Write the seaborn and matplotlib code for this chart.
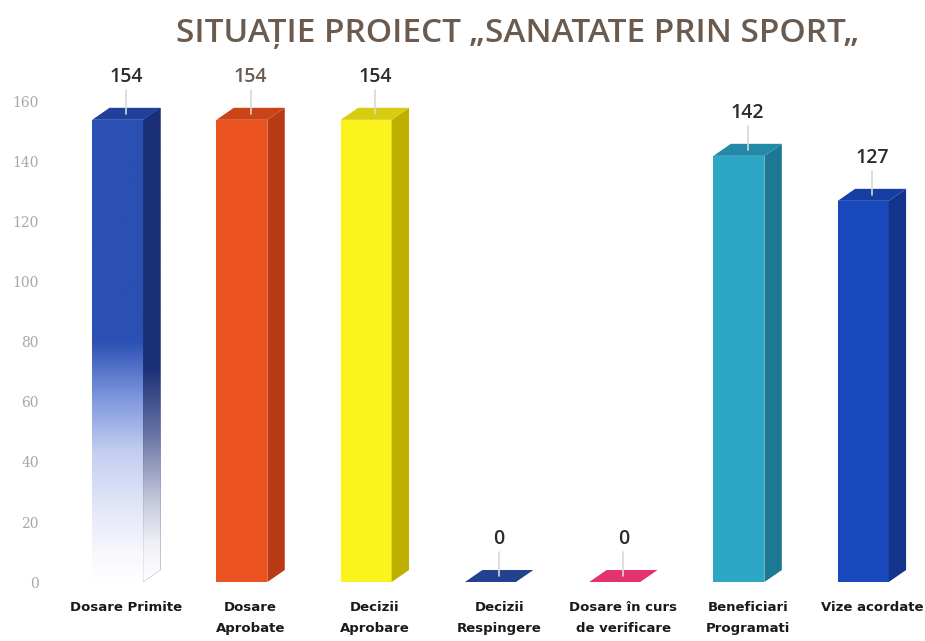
import numpy as np
import pandas as pd
import matplotlib
matplotlib.use("Agg")
import matplotlib.pyplot as plt
import seaborn as sns
from matplotlib.patches import Polygon
from matplotlib.colors import LinearSegmentedColormap

# date grafic
categorii = ["Dosare Primite", "Dosare\nAprobate", "Decizii\nAprobare", "Decizii\nRespingere",
             "Dosare în curs\nde verificare", "Beneficiari\nProgramati", "Vize acordate"]
valori = [154, 154, 154, 0, 0, 142, 127]
culori_fata = ["#2b50b4", "#ea5220", "#fbf31e", "#22418f", "#e2336c", "#2ea6c6", "#1a49bd"]
culori_lateral = ["#1b2f78", "#b93a14", "#bfb000", "#16306e", "#b82052", "#1c7893", "#14338a"]
culori_sus = ["#20409a", "#cc4318", "#d6cc10", "#22418f", "#e2336c", "#2389a8", "#173fa3"]
culori_eticheta = ["#2b2b2b", "#6b5a4e", "#2b2b2b", "#2b2b2b", "#2b2b2b", "#2b2b2b", "#2b2b2b"]
yticks = [0, 20, 40, 60, 80, 100, 120, 140, 160]

df = pd.DataFrame({"categorie": categorii, "valoare": valori})

sns.set_style("white")
plt.rcParams['font.family'] = ['Open Sans', 'DejaVu Sans']

fig = plt.figure(figsize=(9.25, 6.41), dpi=100)
ax = fig.add_axes([0.06, 0.092, 0.935, 0.796])

latime = 0.41
sns.barplot(data=df, x="categorie", y="valoare", hue="categorie", palette=culori_fata,
            width=latime, legend=False, ax=ax, saturation=1, linewidth=0)

dx, dy = 0.14, 4.0
offset_eticheta = 11

for i, p in enumerate(ax.patches):
    x0 = p.get_x()
    x1 = x0 + p.get_width()
    h = p.get_height()
    # fata laterala si fata de sus (efect 3D)
    if h > 0:
        lat = Polygon([(x1, 0), (x1 + dx, dy), (x1 + dx, h + dy), (x1, h)], closed=True,
                      facecolor=culori_lateral[i], edgecolor="none", zorder=2)
        ax.add_patch(lat)
    sus = Polygon([(x0, h), (x0 + dx, h + dy), (x1 + dx, h + dy), (x1, h)], closed=True,
                  facecolor=culori_sus[i], edgecolor="none", zorder=2)
    ax.add_patch(sus)

    # gradient pentru prima coloana
    if i == 0:
        cmap = LinearSegmentedColormap.from_list(
            "g", [(0, "#ffffff"), (0.06, "#f8f8fd"), (0.15, "#e6e8f8"), (0.28, "#c3cef0"),
                  (0.4, "#7d96dc"), (0.52, culori_fata[0]), (1, culori_fata[0])])
        grad = np.linspace(0, 1, 256).reshape(-1, 1)
        im = ax.imshow(grad, cmap=cmap, origin="lower", aspect="auto",
                       extent=[x0, x1, 0, h], zorder=3)
        im.set_clip_path(p)
        cmap2 = LinearSegmentedColormap.from_list(
            "g2", [(0, "#ffffff"), (0.08, "#f0f0f6"), (0.18, "#c0c4d8"), (0.3, "#6e7aa6"),
                   (0.45, culori_lateral[0]), (1, culori_lateral[0])])
        im2 = ax.imshow(grad, cmap=cmap2, origin="lower", aspect="auto",
                        extent=[x1, x1 + dx, 0, h + dy], zorder=3)
        im2.set_clip_path(lat)

    cx = (x0 + x1) / 2 + dx / 2
    ytext = h + offset_eticheta
    ax.plot([cx, cx], [h + dy / 2, ytext - 1], color="#d8d8d8", lw=1.2, zorder=4)
    ax.text(cx, ytext, str(valori[i]), ha="center", va="bottom", fontsize=14,
            color=culori_eticheta[i], fontweight="semibold", zorder=5)

ax.set_xlim(-0.5, 6.46)
ax.set_ylim(0, 170)
ax.set_yticks(yticks)
ax.set_yticklabels([str(v) for v in yticks], family=['DejaVu Serif'], color="#a8a8a8", fontsize=10)
ax.set_xticks(np.arange(len(categorii)) + dx / 2)
ax.set_xticklabels(categorii, fontsize=9.5, fontweight="bold", color="#1a1a1a",
                   family=['DejaVu Sans'], linespacing=1.75)
ax.tick_params(axis="both", length=0)
ax.tick_params(axis="y", pad=12)
ax.tick_params(axis="x", pad=14)
ax.set_xlabel("")
ax.set_ylabel("")
sns.despine(ax=ax, left=True, bottom=True)

fig.text(0.56, 0.948, "SITUAȚIE PROIECT „SANATATE PRIN SPORT„", ha="center", va="center",
         fontsize=24, fontweight="semibold", color="#6b5a4e", family=['Open Sans', 'DejaVu Sans'])

fig.savefig("out.png", dpi=100)
